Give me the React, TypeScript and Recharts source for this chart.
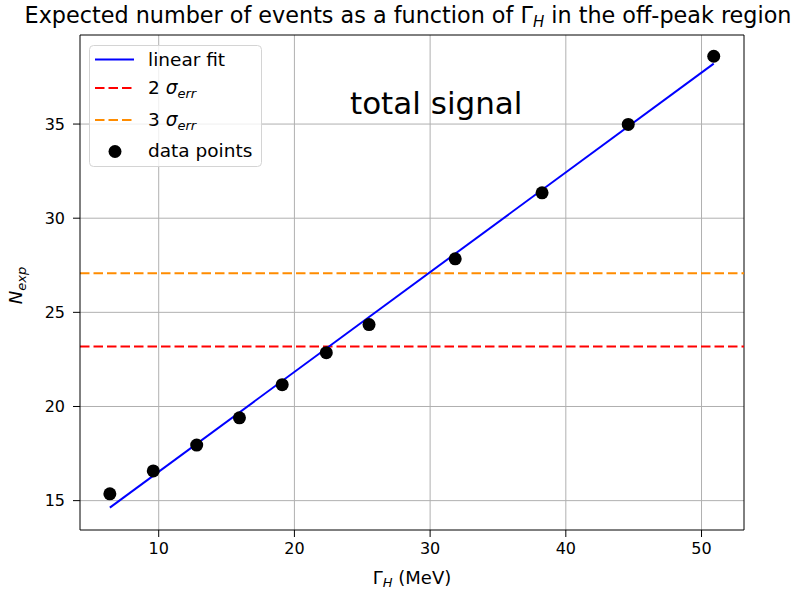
import { ComposedChart, Line, Scatter, XAxis, YAxis, CartesianGrid, ReferenceLine } from 'recharts';

const gammaH = [6.4, 9.6, 12.8, 15.95, 19.1, 22.35, 25.5, 31.85, 38.25, 44.6, 50.9];
const nExp = [15.36, 16.58, 17.95, 19.4, 21.16, 22.86, 24.35, 27.84, 31.35, 34.98, 38.6];
const fitX = [6.4, 50.9];
const fitY = [14.63, 38.21];
const sigma2 = 23.18;
const sigma3 = 27.07;
const xTicks = [10, 20, 30, 40, 50];
const yTicks = [15, 20, 25, 30, 35];
const xDomain = [4.2, 53.13];
const yDomain = [13.44, 39.73];

const points = gammaH.map((x, i) => ({ x, y: nExp[i] }));
const fit = fitX.map((x, i) => ({ x, y: fitY[i] }));

const FONT = "'DejaVu Sans', sans-serif";
const tickStyle = { fill: "#000", fontSize: 16, fontFamily: FONT };
const DASH = "9.5 4";

function Overlay() {
  return (
    <svg width={800} height={591} style={{ position: "absolute", left: 0, top: 0, pointerEvents: "none" }} fontFamily={FONT}>
      <text x={408} y={23} textAnchor="middle" fontSize={22.3} fill="#000">
        Expected number of events as a function of Γ<tspan fontSize={15} fontStyle="italic" dy={4}>H</tspan>
        <tspan dy={-4}> in the off-peak region</tspan>
      </text>
      <text x={350} y={114} fontSize={31} fill="#000">total signal</text>

      {/* legend */}
      <rect x={89.5} y={45.5} width={172} height={121} rx={4} fill="#fff" fillOpacity={0.8} stroke="#d4d4d4" />
      <line x1={95} y1={59.5} x2={134} y2={59.5} stroke="#0000ff" strokeWidth={2} />
      <text x={148} y={65.5} fontSize={18.5} fill="#000">linear fit</text>
      <line x1={95} y1={88} x2={134} y2={88} stroke="#ff0000" strokeWidth={2} strokeDasharray={DASH} />
      <text x={148} y={94} fontSize={18.5} fill="#000">
        2 <tspan fontStyle="italic">σ</tspan><tspan fontStyle="italic" fontSize={13} dy={4}>err</tspan>
      </text>
      <line x1={95} y1={120} x2={134} y2={120} stroke="#ff8c00" strokeWidth={2} strokeDasharray={DASH} />
      <text x={148} y={126} fontSize={18.5} fill="#000">
        3 <tspan fontStyle="italic">σ</tspan><tspan fontStyle="italic" fontSize={13} dy={4}>err</tspan>
      </text>
      <circle cx={115} cy={151.5} r={6.5} fill="#000" />
      <text x={148} y={157} fontSize={18.5} fill="#000">data points</text>
    </svg>
  );
}

export default function App() {
  return (
    <div style={{ position: "absolute", left: 0, top: 0, width: 800, height: 591, background: "#fff" }}>
      <ComposedChart width={800} height={591} margin={{ top: 35, right: 56, bottom: 16, left: 20 }}>
        <CartesianGrid stroke="#b0b0b0" strokeWidth={1} horizontalValues={yTicks} verticalValues={xTicks} />
        <XAxis
          type="number" dataKey="x" domain={xDomain} ticks={xTicks} allowDataOverflow height={45}
          tick={tickStyle} tickSize={7} tickMargin={6} stroke="#000" axisLine={{ stroke: "#000" }}
          label={({ viewBox }: any) => (
            <text x={viewBox.x + viewBox.width / 2} y={584} textAnchor="middle" fontFamily={FONT} fontSize={18} fill="#000">
              Γ<tspan fontStyle="italic" fontSize={13} dy={3}>H</tspan><tspan dy={-3}> (MeV)</tspan>
            </text>
          )}
        />
        <YAxis
          type="number" dataKey="y" domain={yDomain} ticks={yTicks} allowDataOverflow width={60}
          tick={tickStyle} tickSize={7} tickMargin={8} stroke="#000" axisLine={{ stroke: "#000" }}
          label={({ viewBox }: any) => {
            const cy = viewBox.y + viewBox.height / 2 + 3;
            return (
              <text x={22} y={cy} textAnchor="middle" fontFamily={FONT} fontSize={18} fill="#000" transform={`rotate(-90 22 ${cy})`}>
                <tspan fontStyle="italic">N</tspan><tspan fontStyle="italic" fontSize={13} dy={4}>exp</tspan>
              </text>
            );
          }}
        />
        {/* frame top and right */}
        <ReferenceLine y={yDomain[1]} stroke="#000" strokeWidth={1} />
        <ReferenceLine x={xDomain[1]} stroke="#000" strokeWidth={1} />
        <ReferenceLine y={sigma2} stroke="#ff0000" strokeWidth={2} strokeDasharray={DASH} />
        <ReferenceLine y={sigma3} stroke="#ff8c00" strokeWidth={2} strokeDasharray={DASH} />
        <Line data={fit} dataKey="y" type="linear" stroke="#0000ff" strokeWidth={2} dot={false} isAnimationActive={false} />
        <Scatter data={points} dataKey="y" fill="#000" isAnimationActive={false}
          shape={(p: any) => <circle cx={p.cx} cy={p.cy} r={6.5} fill="#000" />} />
      </ComposedChart>
      <Overlay />
    </div>
  );
}
